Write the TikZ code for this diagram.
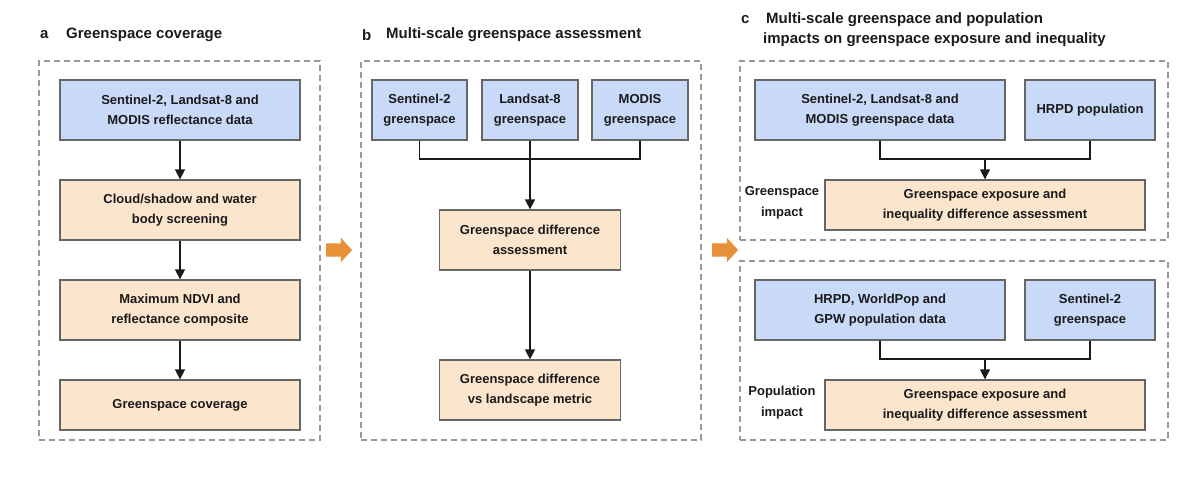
\documentclass[tikz,border=0pt]{standalone}
\usepackage{fontspec}
\setmainfont{Liberation Sans}
\usetikzlibrary{arrows.meta,shapes.arrows}
\definecolor{bfill}{HTML}{C9DAF8}
\definecolor{ofill}{HTML}{FCE5CD}
\definecolor{bord}{HTML}{666666}
\definecolor{dash}{HTML}{999999}
\definecolor{oarrow}{HTML}{E69138}
\definecolor{txt}{HTML}{1A1A1A}
\tikzset{
  box/.style={draw=bord, line width=1.3pt, align=center, inner sep=0pt,
    font=\fontsize{13}{20}\selectfont\bfseries, text=txt},
  bbox/.style={box, fill=bfill},
  obox/.style={box, fill=ofill},
  panel/.style={draw=dash, line width=1.3pt, dash pattern=on 6pt off 4pt},
  conn/.style={draw=txt, line width=1.4pt},
  arr/.style={conn, -{Triangle[length=10pt,width=10pt]}},
  ttl/.style={anchor=west, font=\fontsize{15}{20}\selectfont\bfseries, text=txt, inner sep=0pt},
  lbl/.style={align=center, font=\fontsize{13}{21}\selectfont\bfseries, text=txt, inner sep=0pt},
  bigarrow/.style={single arrow, fill=oarrow, draw=none, minimum height=26pt,
    text height=6.5pt, text depth=6.5pt, text width=0pt,
    single arrow head extend=5.5pt, single arrow tip angle=95, inner sep=0pt}
}
\begin{document}
\begin{tikzpicture}[x=1pt,y=-1pt]
\useasboundingbox (0,0) rectangle (1200,480);

% panel frames
\node[panel, minimum width=281pt, minimum height=379pt, inner sep=0pt] (pa) at (179.5,250.5) {};
\node[panel, minimum width=340pt, minimum height=379pt, inner sep=0pt] (pb) at (531,250.5) {};
\node[panel, minimum width=428pt, minimum height=179pt, inner sep=0pt] (pc1) at (954,150.5) {};
\node[panel, minimum width=428pt, minimum height=179pt, inner sep=0pt] (pc2) at (954,350.5) {};

% titles
\node[ttl] (ta) at (40,35) {a};
\node[ttl] (tan) at (66,35) {Greenspace coverage};
\node[ttl] (tb) at (362,35) {b};
\node[ttl] (tbn) at (386,35) {Multi-scale greenspace assessment};
\node[ttl] (tc) at (741,20) {c};
\node[ttl] (tcn1) at (766,20) {Multi-scale greenspace and population};
\node[ttl] (tcn2) at (763,40) {impacts on greenspace exposure and inequality};

% panel a
\node[bbox, minimum width=240pt, minimum height=60pt] (a1) at (180,110) {Sentinel-2, Landsat-8 and\\MODIS reflectance data};
\node[obox, minimum width=240pt, minimum height=60pt] (a2) at (180,210) {Cloud/shadow and water\\body screening};
\node[obox, minimum width=240pt, minimum height=60pt] (a3) at (180,310) {Maximum NDVI and\\reflectance composite};
\node[obox, minimum width=240pt, minimum height=50pt] (a4) at (180,405) {Greenspace coverage};
\draw[arr] (a1) -- (a2);
\draw[arr] (a2) -- (a3);
\draw[arr] (a3) -- (a4);

% panel b
\node[bbox, minimum width=95pt, minimum height=60pt] (b1) at (419.5,110) {Sentinel-2\\greenspace};
\node[bbox, minimum width=96pt, minimum height=60pt] (b2) at (530,110) {Landsat-8\\greenspace};
\node[bbox, minimum width=96pt, minimum height=60pt] (b3) at (640,110) {MODIS\\greenspace};
\node[obox, minimum width=181pt, minimum height=60pt] (b4) at (530,240) {Greenspace difference\\assessment};
\node[obox, minimum width=181pt, minimum height=60pt] (b5) at (530,390) {Greenspace difference\\vs landscape metric};
\coordinate (bj) at (530,159);
\draw[conn] (b1.south) |- (bj) -| (b3.south);
\draw[arr] (b2.south) -- (b4.north);
\draw[arr] (b4) -- (b5);

% panel c upper
\node[bbox, minimum width=250pt, minimum height=60pt] (c1) at (880,110) {Sentinel-2, Landsat-8 and\\MODIS greenspace data};
\node[bbox, minimum width=130pt, minimum height=60pt] (c2) at (1090,110) {HRPD population};
\node[obox, minimum width=320pt, minimum height=50pt] (c3) at (985,205) {Greenspace exposure and\\inequality difference assessment};
\node[lbl] (cl1) at (782,203) {Greenspace\\impact};
\coordinate (cj) at (985,159);
\draw[conn] (c1.south) |- (cj) -| (c2.south);
\draw[arr] (cj) -- (c3.north);

% panel c lower
\node[bbox, minimum width=250pt, minimum height=60pt] (d1) at (880,310) {HRPD, WorldPop and\\GPW population data};
\node[bbox, minimum width=130pt, minimum height=60pt] (d2) at (1090,310) {Sentinel-2\\greenspace};
\node[obox, minimum width=320pt, minimum height=50pt] (d3) at (985,405) {Greenspace exposure and\\inequality difference assessment};
\node[lbl] (dl1) at (782,403) {Population\\impact};
\coordinate (dj) at (985,359);
\draw[conn] (d1.south) |- (dj) -| (d2.south);
\draw[arr] (dj) -- (d3.north);

% big arrows
\node[bigarrow] (ar1) at (336,250) {};
\node[bigarrow] (ar2) at (722,250) {};
\end{tikzpicture}
\end{document}
